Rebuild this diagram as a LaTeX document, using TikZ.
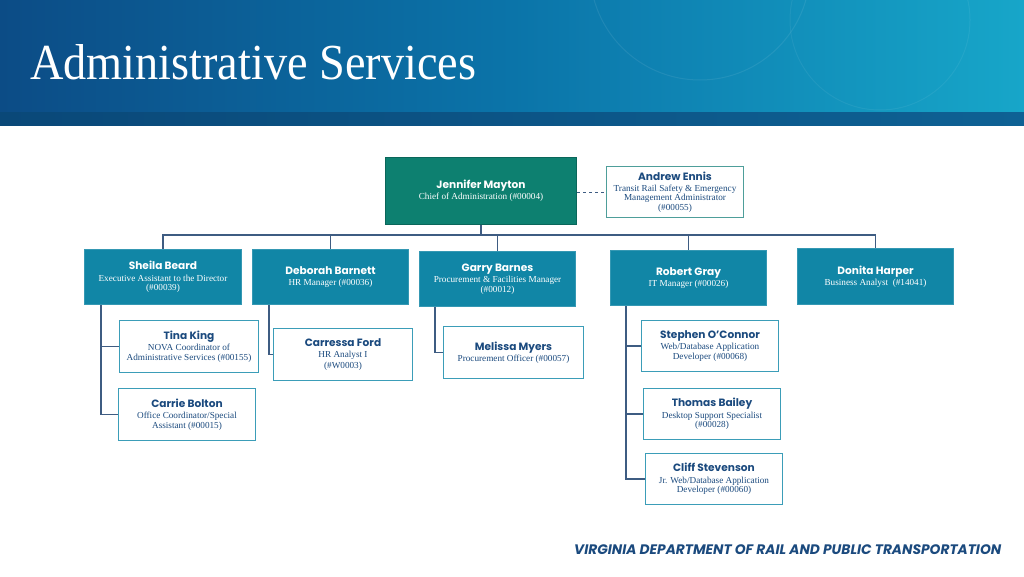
\documentclass[tikz,border=0pt]{standalone}
\usepackage{fontspec}
\usepackage{graphicx}
\setmainfont{Liberation Serif}
\newfontfamily\namefont{Poppins}
\definecolor{hdrL}{HTML}{0C4C86}
\definecolor{hdrM}{HTML}{0B74A9}
\definecolor{hdrR}{HTML}{17A6C9}
\definecolor{bandL}{HTML}{0A4878}
\definecolor{bandR}{HTML}{0E6194}
\definecolor{jenc}{HTML}{0D8070}
\definecolor{midc}{HTML}{1186A6}
\definecolor{navy}{HTML}{1B4A7E}
\definecolor{lnc}{HTML}{3E5C82}
\definecolor{wbord}{HTML}{3B9DB8}
\definecolor{gbord}{HTML}{4E9E9A}
\newcommand\pn[1]{{\namefont\bfseries\fontsize{10.6}{12}\selectfont #1}\\[2pt]}
\begin{document}
\begin{tikzpicture}[x=1pt,y=-1pt,
  box/.style={anchor=north west, inner sep=0pt, align=center,
    font=\fontsize{9.2}{9.4}\selectfont, line width=1pt},
  topbox/.style={box, fill=jenc, draw=jenc!80!black, text=white},
  midbox/.style={box, fill=midc, draw=midc!85!white, text=white},
  wbox/.style={box, fill=white, draw=wbord, text=navy},
  conn/.style={draw=lnc, line width=1.2pt}]
\useasboundingbox (0,0) rectangle (1024,576);
\fill[white] (0,0) rectangle (1024,576);
% header
\shade[left color=hdrL, right color=hdrM] (0,0) rectangle (512,112);
\shade[left color=hdrM, right color=hdrR] (512,0) rectangle (1024,112);
\draw[white, opacity=0.08, line width=1pt] (700,-30) circle (110);
\draw[white, opacity=0.06, line width=1pt] (880,20) circle (90);
\shade[left color=bandL, right color=bandR] (0,112) rectangle (1024,125);
\node[anchor=south west, inner sep=0pt, text=white] (title) at (30,80)
  {\resizebox{446pt}{35pt}{Administrative Services}};
% top
\node[topbox, minimum width=191pt, minimum height=67pt] (jen) at (385,157)
  {\pn{Jennifer Mayton}Chief of Administration (\#00004)};
\node[wbox, draw=gbord, minimum width=137pt, minimum height=51pt] (andrew) at (606,166)
  {\pn{Andrew Ennis}Transit Rail Safety \& Emergency\\Management Administrator\\(\#00055)};
\draw[lnc, line width=0.8pt, dashed] (jen.east |- andrew.west) -- (andrew.west);
% second row
\node[midbox, minimum width=157pt, minimum height=55pt] (sheila) at (84,249)
  {\pn{Sheila Beard}Executive Assistant to the Director\\(\#00039)};
\node[midbox, minimum width=156pt, minimum height=55pt] (deborah) at (252,249)
  {\pn{Deborah Barnett}HR Manager (\#00036)};
\node[midbox, minimum width=156pt, minimum height=55pt] (garry) at (419,251)
  {\pn{Garry Barnes}Procurement \& Facilities Manager\\(\#00012)};
\node[midbox, minimum width=156pt, minimum height=55pt] (robert) at (610,250)
  {\pn{Robert Gray}IT Manager (\#00026)};
\node[midbox, minimum width=156pt, minimum height=56pt] (donita) at (797,248)
  {\pn{Donita Harper}Business Analyst~~(\#14041)};
% third row
\node[wbox, minimum width=139pt, minimum height=52pt] (tina) at (119,320)
  {\pn{Tina King}NOVA Coordinator of\\Administrative Services (\#00155)};
\node[wbox, minimum width=137pt, minimum height=52pt] (carrie) at (118,388)
  {\pn{Carrie Bolton}Office Coordinator/Special\\Assistant (\#00015)};
\node[wbox, minimum width=139pt, minimum height=52pt] (carressa) at (273,328)
  {\pn{Carressa Ford}HR Analyst I\\[2pt](\#W0003)};
\node[wbox, minimum width=140pt, minimum height=52pt] (melissa) at (443,326)
  {\pn{Melissa Myers}Procurement Officer (\#00057)};
\node[wbox, minimum width=137pt, minimum height=51pt] (stephen) at (641,320)
  {\pn{Stephen O’Connor}Web/Database Application\\Developer (\#00068)};
\node[wbox, minimum width=137pt, minimum height=51pt] (thomas) at (643,388)
  {\pn{Thomas Bailey}Desktop Support Specialist\\(\#00028)};
\node[wbox, minimum width=137pt, minimum height=51pt] (cliff) at (645,453)
  {\pn{Cliff Stevenson}Jr. Web/Database Application\\Developer (\#00060)};
% connectors
\foreach \c in {sheila,deborah,garry,robert,donita}
  \draw[conn] (jen.south) -- ++(0,10) -| (\c.north);
\draw[conn] ([xshift=17pt]sheila.south west) |- (tina.west);
\draw[conn] ([xshift=17pt]sheila.south west) |- (carrie.west);
\draw[conn] ([xshift=17pt]deborah.south west) |- (carressa.west);
\draw[conn] ([xshift=16pt]garry.south west) |- (melissa.west);
\draw[conn] ([xshift=16pt]robert.south west) |- (stephen.west);
\draw[conn] ([xshift=16pt]robert.south west) |- (thomas.west);
\draw[conn] ([xshift=16pt]robert.south west) |- (cliff.west);
% footer
\node[anchor=base west, inner sep=0pt, text=navy] (foot) at (574,554)
  {\resizebox{427pt}{!}{\namefont\bfseries\itshape VIRGINIA DEPARTMENT OF RAIL AND PUBLIC TRANSPORTATION}};
\end{tikzpicture}
\end{document}
